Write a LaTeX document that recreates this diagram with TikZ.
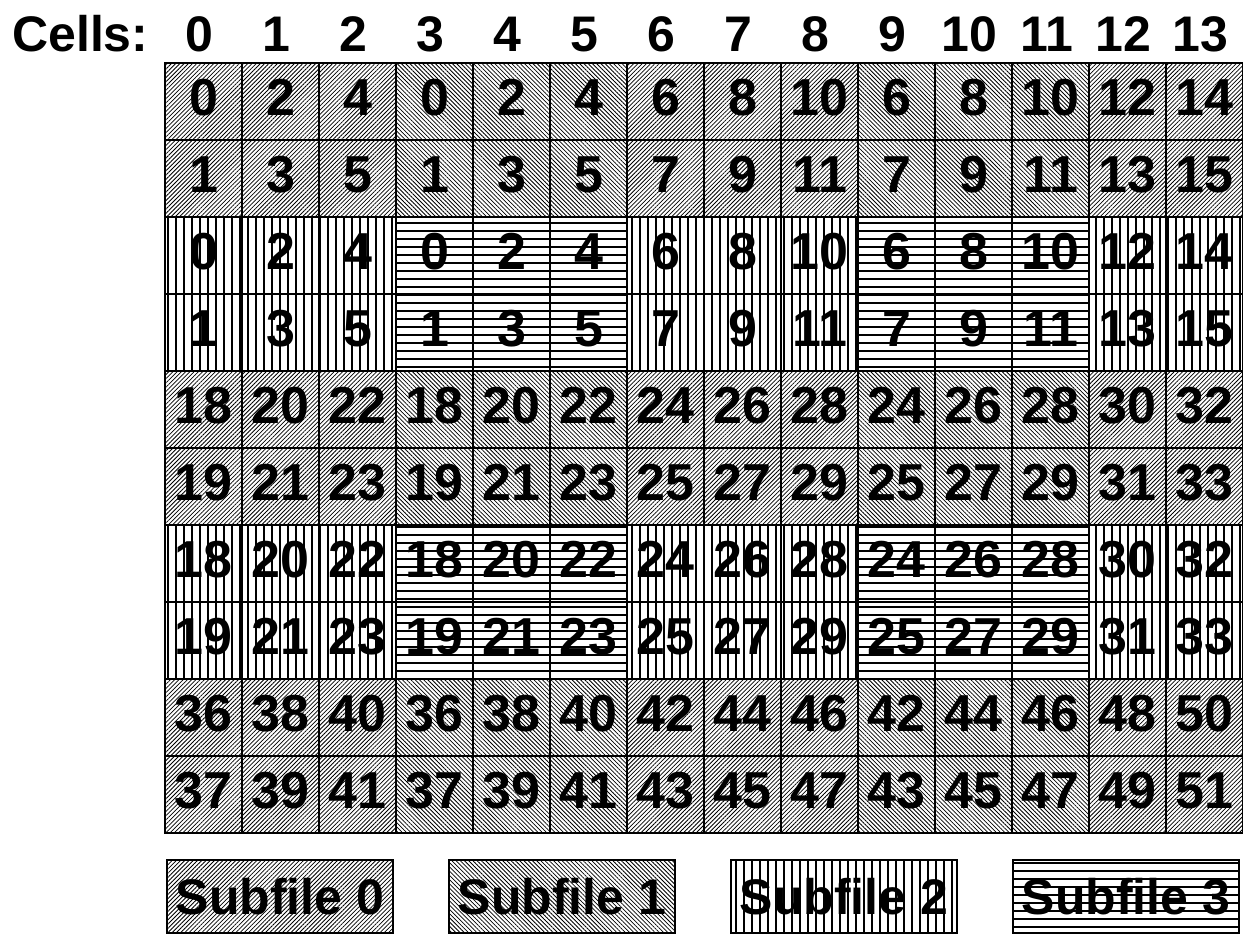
\documentclass[tikz,border=0pt]{standalone}
\usepackage{fontspec}
\setmainfont{Liberation Sans}
\usetikzlibrary{patterns.meta}

\begin{document}
\begin{tikzpicture}[
  x=1pt, y=-1pt,
  hdr/.style={inner sep=0pt, anchor=base, font=\fontsize{50}{50}\selectfont\bfseries},
  % text depth lifts the digits a little above the cell centre
  cell/.style={draw, line width=2.5pt, minimum width=77pt, minimum height=77pt,
               inner sep=0pt, text depth=8pt,
               font=\fontsize{52}{52}\selectfont\bfseries},
  keybox/.style={draw, line width=2.5pt, minimum width=226pt, minimum height=73pt,
                 inner sep=0pt, font=\fontsize{50}{50}\selectfont\bfseries},
  sub0/.style={pattern={Lines[angle=45, distance=3pt, line width=0.8pt]}},
  sub1/.style={pattern={Lines[angle=-45, distance=3pt, line width=0.8pt]}},
  sub2/.style={pattern={Lines[angle=90, distance=8pt, line width=1.6pt]}},
  sub3/.style={pattern={Lines[angle=0, distance=8pt, line width=1.6pt]}},
]
\useasboundingbox (0,0) rectangle (1243,935);

%%---- Header ---------------------------------------------------------
\node[hdr, anchor=base west] (cellsLbl) at (12,51) {Cells:};
\foreach \c in {0,...,13}
  \node[hdr] (hdr\c) at ({199.5+77*\c},51) {\c};

%%---- Grid of cells --------------------------------------------------
\foreach \r/\vals in {
    0/{0,2,4,0,2,4,6,8,10,6,8,10,12,14},
    1/{1,3,5,1,3,5,7,9,11,7,9,11,13,15},
    2/{0,2,4,0,2,4,6,8,10,6,8,10,12,14},
    3/{1,3,5,1,3,5,7,9,11,7,9,11,13,15},
    4/{18,20,22,18,20,22,24,26,28,24,26,28,30,32},
    5/{19,21,23,19,21,23,25,27,29,25,27,29,31,33},
    6/{18,20,22,18,20,22,24,26,28,24,26,28,30,32},
    7/{19,21,23,19,21,23,25,27,29,25,27,29,31,33},
    8/{36,38,40,36,38,40,42,44,46,42,44,46,48,50},
    9/{37,39,41,37,39,41,43,45,47,43,45,47,49,51}}
{
  \pgfmathtruncatemacro\pr{mod(floor(\r/2),2)}
  \foreach \v [count=\c from 0] in \vals {
    \pgfmathtruncatemacro\blk{mod(floor(\c/3),2)}
    \pgfmathtruncatemacro\sf{2*\pr+\blk}
    \node[cell, sub\sf] (cell-\r-\c) at ({203.5+77*\c},{101.5+77*\r}) {\v};
  }
}

%%---- Legend ---------------------------------------------------------
\foreach \k in {0,...,3}
  \node[keybox, sub\k] (key\k) at ({280+282*\k},896.5) {Subfile \k};

\end{tikzpicture}
\end{document}
